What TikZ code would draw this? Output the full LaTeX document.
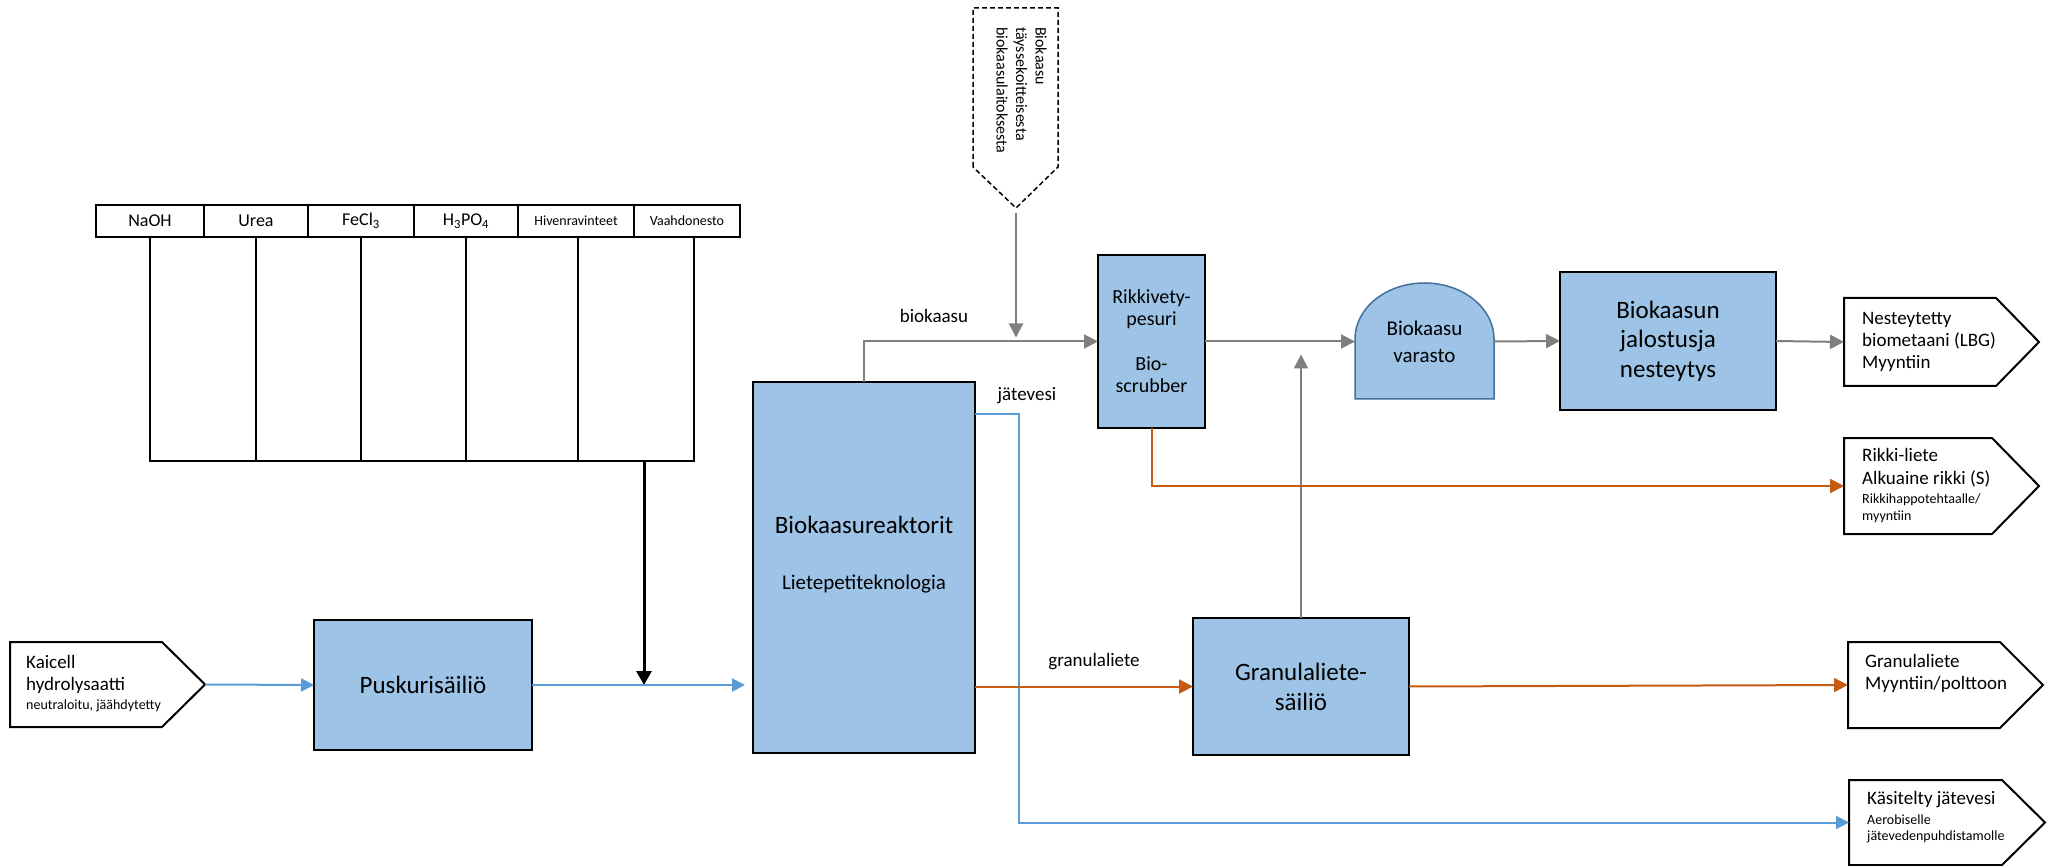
\documentclass[tikz,border=0pt]{standalone}
\usepackage{fontspec}
\setmainfont{Carlito}
\usetikzlibrary{arrows.meta,calc}
\definecolor{fillb}{HTML}{9DC3E6}
\definecolor{lineb}{HTML}{5B9BD5}
\definecolor{lineo}{HTML}{C55A11}
\definecolor{lineg}{HTML}{7F7F7F}
\definecolor{edgeb}{HTML}{41719C}
\newcommand{\smalltx}[1]{{\fontsize{14}{17}\selectfont #1}}
\begin{document}
\begin{tikzpicture}[x=1pt,y=-1pt,
  f/.style 2 args={font=\fontsize{#1}{#2}\selectfont},
  proc/.style={draw=black, line width=2pt, fill=fillb, inner sep=0pt, outer sep=0pt, align=center},
  chem/.style={draw=black, line width=1.3pt, minimum height=32pt, inner sep=0pt, outer sep=0pt},
  pbox/.style={inner sep=0pt, outer sep=0pt},
  ptext/.style={anchor=west, align=left, inner sep=0pt},
  pent/.style={draw=black, line width=2pt, line join=miter},
  tline/.style={draw=black, line width=1.3pt},
  garr/.style={draw=lineg, line width=2pt, -{Triangle[length=14pt,width=14pt]}},
  barr/.style={draw=lineb, line width=2pt, -{Triangle[length=13pt,width=13pt]}},
  oarr/.style={draw=lineo, line width=2pt, -{Triangle[length=14pt,width=14pt]}},
]
\useasboundingbox (0,0) rectangle (2051,866);
\fill[white] (0,0) rectangle (2051,866);

% chemicals table
\node[chem, minimum width=108pt, f={18}{20}] (naoh) at (150,221) {NaOH};
\node[chem, minimum width=104pt, f={18}{20}] (urea) at (256,221) {Urea};
\node[chem, minimum width=106pt, f={18}{20}] (fecl) at (361,221) {FeCl\textsubscript{3}};
\node[chem, minimum width=104pt, f={18}{20}] (hpo) at (466,221) {H\textsubscript{3}PO\textsubscript{4}};
\node[chem, minimum width=116pt, f={14}{16}] (hiv) at (576,221) {Hivenravinteet};
\node[chem, minimum width=106pt, f={14}{16}] (vaa) at (687,221) {Vaahdonesto};
\coordinate (jn) at (644,461);
\coordinate (mix) at (644,685);
\foreach \n in {naoh,urea,fecl,hpo} \draw[tline] (\n.south) |- (jn);
\draw[tline] ($(hiv.south)+(2,0)$) |- (jn);
\draw[tline] ($(vaa.south)+(7,0)$) |- (jn);
\draw[line width=3pt, -{Triangle[length=14pt,width=15pt]}] (jn) -- (mix);

% input pentagon
\node[pbox, minimum width=152pt, minimum height=85pt] (kai) at (86,684.5) {};
\draw[pent] (kai.north west) -- (kai.north east) -- ($(kai.east)+(43,0)$) -- (kai.south east) -- (kai.south west) -- cycle;
\coordinate (kaitip) at ($(kai.east)+(43,0)$);
\node[ptext, f={19}{22}] (kait) at ($(kai.west)+(16,-1)$) {Kaicell\\hydrolysaatti\\[-3pt]\smalltx{neutraloitu, jäähdytetty}};

% process boxes
\node[proc, minimum width=218pt, minimum height=130pt, f={25}{29}] (pusk) at (423,685) {Puskurisäiliö};
\node[proc, minimum width=222pt, minimum height=371pt] (reac) at (864,567.5) {};
\node[f={25}{29}] (react1) at (864,525) {Biokaasureaktorit};
\node[f={21}{25}] (react2) at (864,584) {Lietepetiteknologia};
\node[proc, minimum width=107pt, minimum height=173pt, f={20}{22}] (rik) at (1151.5,341.5) {Rikkivety-\\pesuri\\[23pt]Bio-\\scrubber};
\draw[fill=fillb, draw=edgeb, line width=1.5pt] (1355,399) -- (1355,339) arc[start angle=180, end angle=0, x radius=69.5pt, y radius=56pt] -- (1494,399) -- cycle;
\node[pbox, minimum width=139pt, minimum height=116pt, align=center, f={21}{27}] (var) at (1424.5,341.5) {Biokaasu\\varasto};
\node[proc, minimum width=216pt, minimum height=138pt, f={25}{29.5}] (jal) at (1668,341) {Biokaasun\\jalostusja\\nesteytys};
\node[proc, minimum width=216pt, minimum height=137pt, f={25}{30}] (gs) at (1301,686.5) {Granulaliete-\\säiliö};

% source (dashed)
\coordinate (srctip) at (1016,208);
\draw[black, line width=1.5pt, dash pattern=on 5pt off 3pt] (973,167) -- (973,8) -- (1058,8) -- (1058,167) -- (srctip) -- cycle;
\node[rotate=-90, anchor=north west, align=left, inner sep=0pt, f={16}{19.5}] (srct) at (1047,27) {Biokaasu\\täyssekoitteisesta\\biokaasulaitoksesta};
\coordinate (bgj) at (1016,341.5);

% output pentagons
\node[pbox, minimum width=152pt, minimum height=88pt] (nes) at (1920,342) {};
\draw[pent] (nes.north west) -- (nes.north east) -- ($(nes.east)+(43,0)$) -- (nes.south east) -- (nes.south west) -- cycle;
\node[ptext, f={19}{22}] (nest) at ($(nes.west)+(18,0)$) {Nesteytetty\\biometaani (LBG)\\Myyntiin};

\node[pbox, minimum width=148pt, minimum height=96pt] (rks) at (1918,486) {};
\draw[pent] (rks.north west) -- (rks.north east) -- ($(rks.east)+(47,0)$) -- (rks.south east) -- (rks.south west) -- cycle;
\node[ptext, f={19}{23}] (rkst) at ($(rks.west)+(18,0)$) {Rikki-liete\\Alkuaine rikki (S)\\[-4pt]\smalltx{Rikkihappotehtaalle/}\\[-6pt]\smalltx{myyntiin}};

\node[pbox, minimum width=152pt, minimum height=86pt] (gran) at (1924,685) {};
\draw[pent] (gran.north west) -- (gran.north east) -- ($(gran.east)+(43,0)$) -- (gran.south east) -- (gran.south west) -- cycle;
\node[ptext, f={19}{22}] (grant) at ($(gran.west)+(17,-12)$) {Granulaliete\\Myyntiin/polttoon};

\node[pbox, minimum width=153pt, minimum height=85pt] (kas) at (1925.5,822.5) {};
\draw[pent] (kas.north west) -- (kas.north east) -- ($(kas.east)+(43,0)$) -- (kas.south east) -- (kas.south west) -- cycle;
\node[ptext, f={19}{22}] (kast) at ($(kas.west)+(18,-5)$) {Käsitelty jätevesi\\[-2pt]\smalltx{Aerobiselle}\\[-6pt]\smalltx{jätevedenpuhdistamolle}};

% connectors
\draw[barr] (kaitip) -- (pusk.west);
\draw[barr, shorten >=8pt] (pusk.east) -- (reac.west |- mix);
\draw[garr] (reac.north) |- (rik.west);
\node[f={19}{22}] (lbio) at (934,316) {biokaasu};
\draw[garr, shorten <=5pt, shorten >=4pt] (srctip) -- (bgj);
\coordinate (jvs) at ($(reac.north east)+(0,32)$);
\coordinate (jvx) at (1019,414);
\draw[barr] (jvs) -| (jvx |- kas.west) -- (kas.west);
\node[f={19}{22}] (ljv) at (1027,396) {jätevesi};
\draw[oarr] (reac.east |- gs.west) -- (gs.west);
\node[f={19}{22}] (lgr) at (1094,662) {granulaliete};
\draw[oarr] (gs.east) -- (gran.west);
\draw[garr, shorten >=13pt] (gs.north) -- (gs.north |- rik.east);
\draw[garr] (rik.east) -- (var.west);
\draw[garr] (var.east) -- (jal.west);
\draw[garr] (jal.east) -- (nes.west);
\draw[oarr] (rik.south) |- (rks.west);
\end{tikzpicture}
\end{document}
